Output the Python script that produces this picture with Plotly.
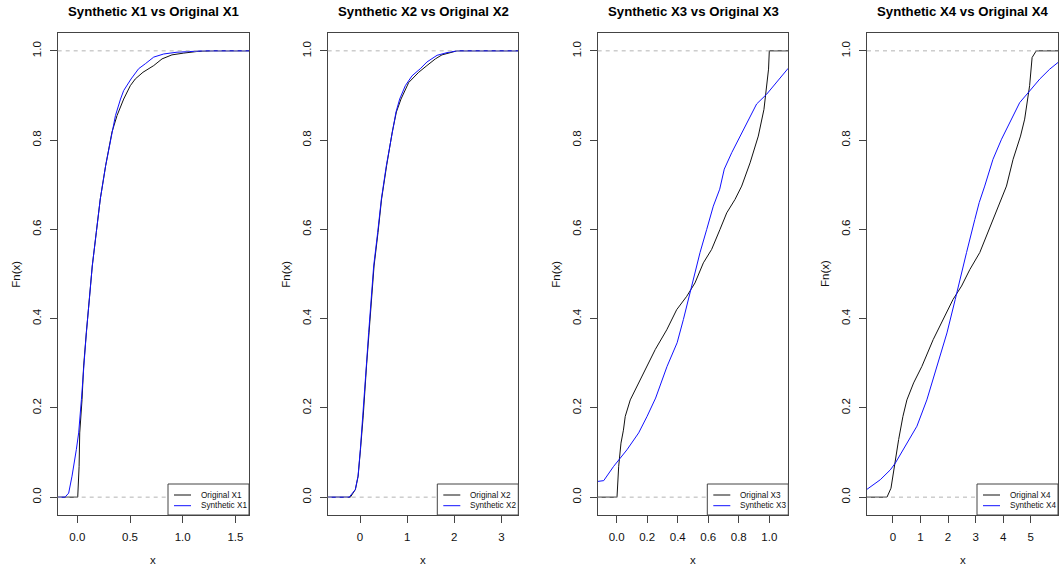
import plotly.graph_objects as go

W, H = 1059, 572

# ---------------- data ----------------
x1_orig_x = [0.004, 0.017, 0.023, 0.045, 0.06, 0.086, 0.114, 0.133, 0.142, 0.18, 0.218, 0.269, 0.329, 0.377, 0.44, 0.503, 0.55, 0.623, 0.725, 0.804, 0.898, 1.01, 1.15, 1.29]
x1_orig_F = [0.0, 0.069, 0.144, 0.219, 0.294, 0.369, 0.443, 0.488, 0.518, 0.593, 0.668, 0.743, 0.818, 0.855, 0.892, 0.922, 0.937, 0.952, 0.967, 0.982, 0.991, 0.995, 0.999, 1.0]
x1_syn_x = [-0.117, -0.082, -0.05, -0.009, 0.013, 0.039, 0.06, 0.086, 0.114, 0.142, 0.18, 0.218, 0.269, 0.329, 0.362, 0.41, 0.44, 0.51, 0.582, 0.645, 0.725, 0.82, 0.946, 1.2]
x1_syn_F = [0.0, 0.009, 0.047, 0.107, 0.144, 0.219, 0.294, 0.369, 0.443, 0.518, 0.593, 0.668, 0.743, 0.818, 0.855, 0.892, 0.911, 0.937, 0.96, 0.971, 0.986, 0.993, 0.997, 1.0]

x2_orig_x = [-0.205, -0.099, -0.04, 0.01, 0.068, 0.138, 0.19, 0.24, 0.298, 0.382, 0.458, 0.565, 0.684, 0.772, 0.87, 1.033, 1.246, 1.42, 1.6, 1.74, 1.89, 2.06]
x2_orig_F = [0.0, 0.017, 0.047, 0.107, 0.182, 0.294, 0.369, 0.443, 0.518, 0.593, 0.668, 0.743, 0.818, 0.863, 0.892, 0.929, 0.952, 0.967, 0.982, 0.991, 0.995, 1.0]
x2_syn_x = [-0.23, -0.099, -0.042, 0.007, 0.064, 0.134, 0.184, 0.234, 0.29, 0.375, 0.453, 0.559, 0.679, 0.764, 0.842, 0.962, 1.104, 1.28, 1.42, 1.635, 1.847, 2.06]
x2_syn_F = [0.0, 0.017, 0.047, 0.107, 0.182, 0.294, 0.369, 0.443, 0.518, 0.593, 0.668, 0.743, 0.818, 0.863, 0.892, 0.922, 0.944, 0.96, 0.975, 0.99, 0.996, 1.0]

x3_orig_x = [0.002, 0.013, 0.028, 0.044, 0.056, 0.089, 0.144, 0.197, 0.253, 0.328, 0.393, 0.459, 0.513, 0.568, 0.622, 0.677, 0.721, 0.775, 0.819, 0.874, 0.928, 0.965, 0.995, 1.0]
x3_orig_F = [0.0, 0.069, 0.121, 0.15, 0.181, 0.218, 0.256, 0.293, 0.331, 0.375, 0.42, 0.45, 0.48, 0.525, 0.555, 0.6, 0.637, 0.667, 0.697, 0.749, 0.809, 0.869, 0.959, 1.0]
x3_syn_x = [-0.13, -0.085, -0.02, 0.067, 0.144, 0.199, 0.255, 0.33, 0.396, 0.437, 0.491, 0.546, 0.59, 0.633, 0.675, 0.705, 0.754, 0.808, 0.862, 0.917, 0.983, 1.048, 1.124]
x3_syn_F = [0.035, 0.037, 0.069, 0.106, 0.144, 0.181, 0.222, 0.293, 0.346, 0.398, 0.473, 0.548, 0.6, 0.652, 0.69, 0.735, 0.772, 0.809, 0.847, 0.881, 0.903, 0.929, 0.961]

x4_orig_x = [-0.217, -0.072, 0.048, 0.206, 0.362, 0.507, 0.75, 1.05, 1.46, 1.82, 2.18, 2.49, 2.79, 3.15, 3.39, 3.63, 3.82, 4.12, 4.36, 4.63, 4.78, 4.96, 5.05, 5.14, 5.2]
x4_orig_F = [0.0, 0.02, 0.069, 0.129, 0.181, 0.218, 0.256, 0.293, 0.353, 0.398, 0.443, 0.473, 0.51, 0.548, 0.585, 0.622, 0.652, 0.697, 0.757, 0.809, 0.847, 0.922, 0.985, 0.996, 1.0]
x4_syn_x = [-1.0, -0.46, -0.098, 0.083, 0.507, 0.87, 1.23, 1.59, 1.96, 2.26, 2.37, 2.67, 2.97, 3.13, 3.33, 3.63, 3.94, 4.3, 4.6, 4.96, 5.33, 5.69, 5.99]
x4_syn_F = [0.015, 0.039, 0.061, 0.076, 0.121, 0.159, 0.218, 0.293, 0.368, 0.443, 0.473, 0.548, 0.622, 0.66, 0.697, 0.757, 0.802, 0.847, 0.884, 0.91, 0.937, 0.959, 0.974]

var_names = ["X1", "X2", "X3", "X4"]
x_ranges = [[-0.186, 1.629], [-0.686, 3.36], [-0.1245, 1.1245], [-0.942, 5.99]]
x_tickvals = [[0, 0.5, 1.0, 1.5], [0, 1, 2, 3], [0, 0.2, 0.4, 0.6, 0.8, 1.0], [0, 1, 2, 3, 4, 5]]
x_ticktext = [["0.0", "0.5", "1.0", "1.5"], ["0", "1", "2", "3"],
              ["0.0", "0.2", "0.4", "0.6", "0.8", "1.0"], ["0", "1", "2", "3", "4", "5"]]
y_tickvals = [0, 0.2, 0.4, 0.6, 0.8, 1.0]
y_ticktext = ["0.0", "0.2", "0.4", "0.6", "0.8", "1.0"]
y_range = [-0.04, 1.04]

orig = [(x1_orig_x, x1_orig_F), (x2_orig_x, x2_orig_F), (x3_orig_x, x3_orig_F), (x4_orig_x, x4_orig_F)]
syn = [(x1_syn_x, x1_syn_F), (x2_syn_x, x2_syn_F), (x3_syn_x, x3_syn_F), (x4_syn_x, x4_syn_F)]

# ---------------- layout geometry (pixels) ----------------
left_px = [57.7, 327.7, 597.7, 867.0]
right_px = [249.0, 518.3, 788.3, 1058.0]
top_px, bot_px = 33.0, 515.0

def fx(p):
    return p / W

def fy(p):
    return 1 - p / H

FONT = "Liberation Sans, Arial, sans-serif"
BLUE = "#1010FF"
BLACK = "#111111"
AXC = "#444444"

fig = go.Figure()

def extend(xs, fs, xr):
    # ECDF horizontal pieces out to the plot edges
    x = [min(xr[0], xs[0]) - 1] + list(xs) + [max(xr[1], xs[-1]) + 1]
    f = [fs[0] if fs[0] > 0 and xs[0] <= xr[0] else 0.0] + list(fs) + [fs[-1]]
    return x, f

shapes = []
annotations = []
for i in range(4):
    n = "" if i == 0 else str(i + 1)
    xr = x_ranges[i]
    ox, of = extend(orig[i][0], orig[i][1], xr)
    sx, sf = extend(syn[i][0], syn[i][1], xr)
    fig.add_trace(go.Scatter(x=ox, y=of, mode="lines", line=dict(color=BLACK, width=1),
                             xaxis="x" + n, yaxis="y" + n, showlegend=False,
                             name="Original " + var_names[i]))
    fig.add_trace(go.Scatter(x=sx, y=sf, mode="lines", line=dict(color=BLUE, width=1),
                             xaxis="x" + n, yaxis="y" + n, showlegend=False,
                             name="Synthetic " + var_names[i]))

    common = dict(showgrid=False, zeroline=False, showline=True, mirror=True,
                  linecolor=AXC, linewidth=1, ticks="outside", ticklen=7,
                  tickcolor=AXC, tickwidth=1,
                  tickfont=dict(family=FONT, size=11.5, color="#111111"))
    fig.update_layout(**{
        "xaxis" + n: dict(domain=[fx(left_px[i]), fx(right_px[i])], range=xr,
                          anchor="y" + n, tickvals=x_tickvals[i], ticktext=x_ticktext[i],
                          ticklabelstandoff=4, **common),
        "yaxis" + n: dict(domain=[fy(bot_px), fy(top_px)], range=y_range,
                          anchor="x" + n, tickvals=y_tickvals, ticktext=y_ticktext,
                          tickangle=-90, ticklabelstandoff=4, **common),
    })

    # dashed 0 / 1 reference lines
    for yv in (0, 1):
        shapes.append(dict(type="line", xref="x" + n + " domain", yref="y" + n,
                           x0=0, x1=1, y0=yv, y1=yv, layer="above",
                           line=dict(color="#B3B3B3", width=1, dash="4px,4px")))

    # title
    cx = (left_px[i] + right_px[i]) / 2
    annotations.append(dict(text="<b>Synthetic %s vs Original %s</b>" % (var_names[i], var_names[i]),
                            x=fx(cx), y=fy(11), xref="paper", yref="paper",
                            xanchor="center", yanchor="middle", showarrow=False,
                            font=dict(family=FONT, size=13.2, color="#000000")))
    # axis titles
    annotations.append(dict(text="x", x=fx(cx), y=fy(560), xref="paper", yref="paper",
                            xanchor="center", yanchor="middle", showarrow=False,
                            font=dict(family=FONT, size=11.5, color="#111111")))
    annotations.append(dict(text="Fn(x)", x=fx(left_px[i] - 42), y=fy((top_px + bot_px) / 2),
                            xref="paper", yref="paper", textangle=-90,
                            xanchor="center", yanchor="middle", showarrow=False,
                            font=dict(family=FONT, size=11.5, color="#111111")))

    # legend box (bottom-right, R style)
    R = right_px[i]
    shapes.append(dict(type="rect", xref="paper", yref="paper",
                       x0=fx(R - 81), x1=fx(R), y0=fy(bot_px), y1=fy(484),
                       fillcolor="white", line=dict(color=AXC, width=1), layer="above"))
    for yy, col, lab in ((495, BLACK, "Original " + var_names[i]),
                         (505.7, BLUE, "Synthetic " + var_names[i])):
        shapes.append(dict(type="line", xref="paper", yref="paper",
                           x0=fx(R - 75), x1=fx(R - 58), y0=fy(yy), y1=fy(yy),
                           line=dict(color=col, width=1), layer="above"))
        annotations.append(dict(text=lab, x=fx(R - 50), y=fy(yy), xref="paper", yref="paper",
                                xanchor="left", yanchor="middle", showarrow=False,
                                font=dict(family=FONT, size=8.2, color="#111111")))

fig.update_layout(width=W, height=H, margin=dict(l=0, r=0, t=0, b=0),
                  paper_bgcolor="white", plot_bgcolor="white",
                  shapes=shapes, annotations=annotations, showlegend=False)

fig.write_html("out.html", config={"displayModeBar": False},
               post_script="document.body.style.margin='0';document.body.style.overflow='hidden';")
